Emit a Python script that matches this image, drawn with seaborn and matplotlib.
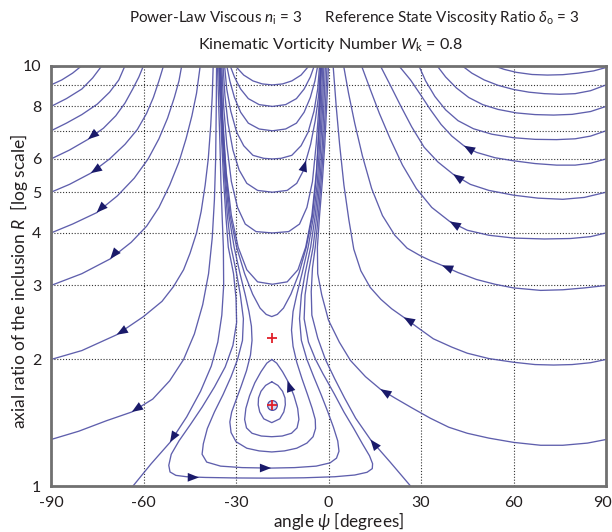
import matplotlib
matplotlib.use("Agg")
import matplotlib.pyplot as plt
import matplotlib.transforms as mtransforms
import seaborn as sns
import pandas as pd

# ---------------- data: (psi [deg], R) ----------------
# left family (from psi=-90 edge up to the top)
L99 = [(-90, 9.9), (-87.5, 9.95), (-85.5, 10)]
L9 = [(-90, 9.0), (-86.5, 9.25), (-83, 9.6), (-80, 10)]
L8 = [(-90, 8.0), (-85, 8.35), (-80, 8.8), (-76.5, 9.35), (-73.5, 10)]
L7 = [(-90, 7.0), (-85, 7.3), (-80, 7.65), (-75, 8.1), (-71, 8.65), (-68, 9.25), (-66, 10)]
L6 = [(-90, 6.0), (-84, 6.3), (-78, 6.68), (-73, 7.1), (-69, 7.6), (-66, 8.15), (-63.5, 8.8), (-61.5, 9.4), (-60, 10)]
L5 = [(-90, 5.0), (-84, 5.22), (-77.1, 5.55), (-71, 6.0), (-66, 6.5), (-62, 7.05), (-59, 7.7), (-56.8, 8.4), (-55, 9.2), (-53.5, 10)]
L4 = [(-90, 4.0), (-83, 4.2), (-75.2, 4.47), (-68.5, 4.9), (-63, 5.4), (-58.5, 6.0), (-55, 6.7), (-52.2, 7.5), (-50, 8.4), (-48.5, 9.2), (-47.6, 10)]
L3 = [(-90, 3.0), (-80, 3.2), (-70.8, 3.47), (-64, 3.8), (-59, 4.15), (-55, 4.6), (-51.5, 5.2), (-48.5, 5.9), (-46.2, 6.7), (-44.3, 7.6), (-42.8, 8.6), (-41.6, 10)]
L2 = [(-90, 2.0), (-80, 2.1), (-68.7, 2.29), (-60, 2.53), (-54, 2.75), (-50.3, 2.98), (-47, 3.27), (-44.9, 3.58), (-42.8, 4.0), (-41.3, 4.5), (-40, 5.2), (-39, 6.0), (-38.2, 7.2), (-37.7, 8.5), (-37.4, 10)]
L13 = [(-90, 1.29), (-81, 1.35), (-72, 1.43), (-63.8, 1.50), (-57, 1.61), (-51.5, 1.78), (-47, 2.0), (-43.5, 2.3), (-40.8, 2.7), (-38.9, 3.2), (-37.7, 3.9), (-37, 4.8), (-36.6, 6.0), (-36.4, 8), (-36.3, 10)]
B63 = [(-63.4, 1.0), (-57.5, 1.13), (-51.4, 1.27), (-46.0, 1.46), (-41.5, 1.68), (-38.0, 1.93), (-35.9, 2.2), (-34.6, 2.55), (-34.0, 3.0), (-34.1, 3.7), (-34.5, 4.4), (-34.9, 5.3), (-35.2, 6.5), (-35.6, 8), (-36.0, 10)]

# right family (from the top down to the psi=+90 edge)
R99 = [(53.6, 10), (57, 9.8), (61, 9.64), (66, 9.53), (71, 9.5), (76, 9.52), (81, 9.6), (86, 9.72), (90, 9.9)]
R9 = [(43.3, 10), (46.5, 9.6), (50.5, 9.25), (55, 8.98), (60, 8.78), (65, 8.65), (70, 8.58), (75, 8.55), (80, 8.58), (85, 8.72), (90, 9.0)]
R8 = [(35.2, 10), (38, 9.4), (41.5, 8.85), (45.5, 8.4), (50, 8.08), (55, 7.87), (61, 7.72), (67, 7.65), (73, 7.63), (79, 7.66), (85, 7.78), (90, 8.0)]
R7 = [(29.3, 10), (31.5, 9.2), (34.5, 8.45), (38, 7.85), (42, 7.4), (47, 7.08), (53, 6.87), (60, 6.74), (67, 6.68), (74, 6.67), (80, 6.7), (85, 6.8), (90, 7.0)]
R6 = [(22.8, 10), (26.6, 9.25), (30, 8.5), (33.1, 7.85), (36.5, 7.25), (40, 6.8), (43.9, 6.45), (48, 6.22), (54, 6.04), (60, 5.94), (67, 5.85), (74, 5.8), (80, 5.8), (85, 5.86), (90, 6.0)]
R5 = [(16.8, 10), (20, 9.0), (23.5, 8.0), (27, 7.15), (31, 6.4), (35.5, 5.9), (40.4, 5.52), (46, 5.22), (52, 5.05), (60, 4.92), (68, 4.84), (76, 4.81), (83, 4.86), (90, 5.0)]
R4 = [(10.7, 10), (13.5, 8.8), (16.5, 7.7), (20, 6.7), (24, 5.8), (28.5, 5.1), (33.5, 4.6), (39.3, 4.26), (45, 4.06), (52, 3.95), (60, 3.89), (70, 3.87), (78.5, 3.88), (85, 3.92), (90, 4.0)]
R3 = [(4.9, 10), (6.5, 8.6), (8.5, 7.3), (11, 6.1), (14, 5.1), (17.5, 4.4), (21.5, 3.95), (25.5, 3.68), (29.8, 3.53), (33, 3.44), (36.8, 3.35), (42, 3.22), (48, 3.1), (54, 3.02), (60, 2.96), (68.8, 2.92), (76, 2.93), (83, 2.96), (90, 3.0)]
R2 = [(1.5, 10), (2.5, 8), (3.6, 6.5), (5.0, 5.2), (6.6, 4.3), (8.2, 3.66), (10.5, 3.25), (13.5, 2.97), (17, 2.78), (20.5, 2.64), (24.4, 2.52), (29, 2.38), (34, 2.24), (40, 2.14), (45, 2.07), (52, 2.01), (60, 1.97), (67, 1.945), (73, 1.94), (79, 1.945), (85, 1.965), (90, 2.0)]
R13 = [(90, 1.29), (84, 1.265), (76, 1.25), (68.8, 1.25), (60, 1.27), (52, 1.30), (45, 1.335), (39, 1.38), (33, 1.45), (27, 1.535), (21.5, 1.62), (16.8, 1.70), (12, 1.82), (7.1, 1.99), (3.5, 2.2), (0.0, 2.48), (-2.2, 2.85), (-3.5, 3.2), (-3.6, 3.7), (-2.9, 4.4), (-2.0, 5.3), (-1.2, 6.5), (-0.6, 8), (0.0, 10)]
B26 = [(26.6, 1.0), (20, 1.14), (13.6, 1.29), (8.8, 1.45), (5.2, 1.62), (2.0, 1.8), (-1.0, 2.0), (-3.5, 2.25), (-5.4, 2.55), (-5.6, 2.9), (-5.2, 3.3), (-4.3, 3.7), (-3.3, 4.4), (-2.4, 5.3), (-1.6, 6.5), (-1.0, 8), (-0.5, 10)]

# U-shaped trajectories above the saddle
U9 = [(-30.3, 10), (-27.5, 9.5), (-24.5, 9.2), (-21.5, 9.05), (-18.2, 9.0), (-14.9, 9.05), (-11.9, 9.2), (-8.9, 9.5), (-6.3, 10)]
U8 = [(-31.9, 10), (-30.5, 9.4), (-28.5, 8.8), (-26, 8.35), (-22.5, 8.08), (-18.2, 8.0), (-13.9, 8.08), (-10.4, 8.35), (-7.9, 8.8), (-5.9, 9.4), (-4.6, 10)]
U7 = [(-33, 10), (-32, 9.2), (-30.5, 8.4), (-28.5, 7.75), (-26, 7.3), (-22.5, 7.07), (-18.2, 7.0), (-13.9, 7.07), (-10.4, 7.3), (-7.9, 7.75), (-5.9, 8.4), (-4.4, 9.2), (-3.5, 10)]
U6 = [(-33.7, 10), (-33, 8.8), (-31.7, 7.8), (-29.8, 6.95), (-27.5, 6.45), (-24.5, 6.12), (-21, 6.02), (-18.2, 6.0), (-15.4, 6.02), (-11.9, 6.12), (-8.9, 6.45), (-6.6, 6.95), (-4.7, 7.8), (-3.5, 8.8), (-2.9, 10)]
U5 = [(-34.2, 10), (-33.6, 8.5), (-32.6, 7.3), (-31, 6.3), (-29, 5.65), (-26.5, 5.25), (-23, 5.05), (-18.2, 5.0), (-13.4, 5.05), (-10.3, 5.25), (-8.3, 5.6), (-7.3, 5.95), (-5.8, 6.5), (-4.3, 7.4), (-3.2, 8.5), (-2.6, 10)]
U4 = [(-34.6, 10), (-34, 8), (-33, 6.5), (-31.5, 5.3), (-29.5, 4.6), (-27, 4.2), (-23.5, 4.03), (-18.2, 4.0), (-12.9, 4.03), (-9.4, 4.2), (-7, 4.6), (-5.2, 5.3), (-4, 6.5), (-3.1, 8), (-2.4, 10)]
U3 = [(-34.9, 10), (-34.3, 7.5), (-33.2, 5.6), (-31.5, 4.4), (-29.3, 3.7), (-26.5, 3.27), (-23, 3.06), (-18.2, 3.02), (-13.4, 3.06), (-9.9, 3.27), (-7.4, 3.7), (-5.4, 4.4), (-3.9, 5.6), (-3.0, 7.5), (-2.5, 10)]
U25 = [(-35.1, 10), (-34.6, 8), (-33.9, 6.5), (-33.0, 5.3), (-31.9, 4.4), (-29.8, 3.7), (-27.2, 3.2), (-24.6, 2.86), (-22.2, 2.65), (-20.2, 2.56), (-18.4, 2.53), (-16.6, 2.56), (-14.6, 2.65), (-12.2, 2.86), (-9.6, 3.2), (-7.2, 3.7), (-5.2, 4.4), (-4.1, 5.3), (-3.3, 6.5), (-2.7, 8), (-2.3, 10)]

# open loops that pass below the centre
C = [(-35.2, 10), (-34.7, 8), (-34.1, 6.5), (-33.3, 5.3), (-32.3, 4.4), (-30.6, 3.7), (-28.7, 3.2), (-27.0, 2.85), (-25.8, 2.6), (-25.0, 2.4), (-24.8, 2.22), (-25.3, 2.05), (-26.6, 1.88), (-28.3, 1.73), (-30.0, 1.6), (-31.4, 1.5), (-32.0, 1.42), (-31.6, 1.34), (-30.0, 1.275), (-26.5, 1.23), (-22.5, 1.212), (-18.4, 1.205), (-14.3, 1.212), (-10.3, 1.23), (-7.0, 1.265), (-5.0, 1.31), (-4.2, 1.37), (-4.3, 1.44), (-5.3, 1.53), (-6.8, 1.65), (-8.6, 1.8), (-10.3, 1.97), (-11.5, 2.15), (-12.0, 2.35), (-11.5, 2.6), (-10.3, 2.85), (-8.6, 3.2), (-6.6, 3.7), (-4.8, 4.4), (-3.6, 5.3), (-2.9, 6.5), (-2.3, 8), (-1.9, 10)]
E = [(-35.4, 10), (-34.9, 8), (-34.3, 6.5), (-33.6, 5.3), (-32.8, 4.4), (-31.6, 3.7), (-29.8, 3.2), (-28.6, 2.85), (-27.6, 2.5), (-27.9, 2.22), (-29.5, 2.0), (-31.6, 1.82), (-34.2, 1.65), (-37.0, 1.5), (-39.3, 1.37), (-40.6, 1.26), (-41.0, 1.19), (-39.5, 1.14), (-35, 1.115), (-28, 1.106), (-18.9, 1.103), (-11, 1.106), (-4, 1.115), (0.5, 1.135), (2.6, 1.165), (3.4, 1.21), (3.0, 1.28), (1.6, 1.38), (-0.2, 1.5), (-2.4, 1.65), (-4.8, 1.82), (-7.0, 2.0), (-8.8, 2.22), (-9.4, 2.5), (-8.8, 2.85), (-7.6, 3.2), (-5.8, 3.7), (-4.3, 4.4), (-3.2, 5.3), (-2.5, 6.5), (-1.9, 8), (-1.5, 10)]
F = [(-35.6, 10), (-35.1, 8), (-34.6, 6.5), (-34.0, 5.3), (-33.3, 4.4), (-32.5, 3.7), (-30.8, 3.2), (-30.0, 2.8), (-29.8, 2.45), (-31.0, 2.16), (-33.5, 1.92), (-37.0, 1.72), (-41.0, 1.54), (-44.8, 1.4), (-48.5, 1.28), (-51.0, 1.19), (-51.8, 1.12), (-51.4, 1.08), (-49.5, 1.06), (-46, 1.052), (-40, 1.048), (-30, 1.045), (-18.9, 1.044), (-8, 1.046), (2, 1.052), (8.5, 1.062), (12.5, 1.078), (14.2, 1.1), (14.3, 1.13), (13.3, 1.18), (11.0, 1.26), (8.2, 1.37), (5.0, 1.5), (1.8, 1.66), (-1.8, 1.85), (-4.2, 2.0), (-6.5, 2.2), (-7.9, 2.5), (-7.6, 2.85), (-6.6, 3.2), (-5.0, 3.7), (-3.8, 4.4), (-2.8, 5.3), (-2.0, 6.5), (-1.5, 8), (-1.0, 10)]

# closed orbits around the centre
orbit_A = [(-18.4, 1.77), (-16.4, 1.735), (-14.9, 1.68), (-14.1, 1.62), (-14.0, 1.56), (-14.5, 1.50), (-15.8, 1.445), (-18.4, 1.415), (-21.0, 1.445), (-22.3, 1.50), (-22.8, 1.56), (-22.7, 1.62), (-21.9, 1.68), (-20.4, 1.735), (-18.4, 1.77)]
orbit_B = [(-18.4, 2.0), (-16.8, 1.96), (-14.9, 1.87), (-12.9, 1.76), (-11.2, 1.64), (-10.0, 1.53), (-9.6, 1.44), (-10.2, 1.375), (-12.0, 1.335), (-15.0, 1.315), (-18.4, 1.31), (-21.8, 1.315), (-24.8, 1.335), (-26.6, 1.375), (-27.2, 1.44), (-26.8, 1.53), (-25.6, 1.64), (-23.9, 1.76), (-21.9, 1.87), (-20.0, 1.96), (-18.4, 2.0)]

# fixed points: centre and saddle
fixed_psi = [-18.4, -18.4]
fixed_R = [1.56, 2.25]

# arrows: (tail psi, tail R, head psi, head R)
arrows = [
    (-76.5, 6.82, -78.0, 6.68), (-75.5, 5.65, -77.1, 5.55), (-73.5, 4.6, -75.2, 4.47),
    (-69.0, 3.6, -70.8, 3.47), (-67.0, 2.33, -68.7, 2.29), (-62.0, 1.53, -63.8, 1.50),
    (-50.3, 1.31, -51.4, 1.27), (-44.5, 1.0485, -42.0, 1.048), (-20.8, 1.1035, -18.6, 1.1035),
    (-12.6, 1.72, -13.3, 1.78), (-7.9, 5.75, -7.3, 5.95),
    (45.5, 6.35, 43.9, 6.45), (42.0, 5.42, 40.4, 5.52), (41.0, 4.19, 39.3, 4.26),
    (38.5, 3.31, 36.8, 3.35), (26.0, 2.48, 24.4, 2.52), (18.5, 1.67, 16.8, 1.70),
    (14.9, 1.255, 13.6, 1.29),
]

curves = {"L99": L99, "L9": L9, "L8": L8, "L7": L7, "L6": L6, "L5": L5, "L4": L4, "L3": L3,
          "L2": L2, "L13": L13, "B63": B63, "R99": R99, "R9": R9, "R8": R8, "R7": R7,
          "R6": R6, "R5": R5, "R4": R4, "R3": R3, "R2": R2, "R13": R13, "B26": B26,
          "U9": U9, "U8": U8, "U7": U7, "U6": U6, "U5": U5, "U4": U4, "U3": U3, "U25": U25,
          "C": C, "E": E, "F": F, "A": orbit_A, "B": orbit_B}

rows = []
for name, pts in curves.items():
    for i, (p, r) in enumerate(pts):
        rows.append({"curve": name, "order": i, "psi": p, "R": r})
df = pd.DataFrame(rows)

# ---------------- style ----------------
sns.set_theme(style="white")
FONT = "Lato"
plt.rcParams["font.family"] = [FONT, "DejaVu Sans"]
plt.rcParams["mathtext.fontset"] = "custom"
plt.rcParams["mathtext.rm"] = FONT
plt.rcParams["mathtext.it"] = FONT + ":italic"

LINE = "#4e4ea4"
ARROW = "#1a1a6a"
TXT = "#231f20"

fig = plt.figure(figsize=(6.12, 5.32), dpi=100)
ax = fig.add_axes([51 / 612, 1 - 486 / 532, (606 - 51) / 612, (486 - 65.7) / 532])

sns.lineplot(data=df, x="psi", y="R", units="curve", estimator=None, sort=False,
             color=LINE, lw=0.95, alpha=0.9, legend=False, ax=ax)

for (p0, r0, p1, r1) in arrows:
    ax.annotate("", xy=(p1, r1), xytext=(p0, r0),
                arrowprops=dict(arrowstyle="-|>,head_length=0.9,head_width=0.35",
                                mutation_scale=9, color=ARROW, lw=0,
                                shrinkA=0, shrinkB=0), zorder=6)

# centre marker (tiny orbit) and fixed points
ax.plot(fixed_psi[:1], fixed_R[:1], "o", ms=7, mfc="#d8d8ee", mec=LINE, mew=0.9, zorder=4)
ax.plot(fixed_psi, fixed_R, "+", ms=7, mew=1.3, color="#e0202a", zorder=5)

ax.set_yscale("log")
ax.set_xlim(-90, 90)
ax.set_ylim(1, 10)
ax.set_xticks([-90, -60, -30, 0, 30, 60, 90])
ax.set_xticklabels(["-90", "-60", "-30", "0", "30", "60", "90"])
ax.set_yticks([1, 2, 3, 4, 5, 6, 7, 8, 9, 10])
ax.set_yticklabels(["1", "2", "3", "4", "5", "6", "", "8", "", "10"])
ax.yaxis.set_minor_locator(matplotlib.ticker.NullLocator())
ax.tick_params(axis="both", length=0, labelsize=11.5, colors=TXT)
ax.tick_params(axis="x", pad=7.5)
ax.tick_params(axis="y", pad=7)
ax.grid(True, color="#333333", lw=0.8, linestyle=(0, (1, 1.6)))
for s in ax.spines.values():
    s.set_color("#707070")
    s.set_linewidth(2.0)
ax.set_xlabel("")
ax.set_ylabel("")

# keep the last x tick label ("90") inside the canvas
fig.canvas.draw()
last = ax.get_xticklabels()[-1]
last.set_transform(last.get_transform() + mtransforms.ScaledTranslation(-4 / 100, 0, fig.dpi_scale_trans))

fig.text(339 / 612, 1 - 521 / 532, r"angle $\psi$ [degrees]",
         ha="center", va="center", fontsize=12.3, color=TXT)
fig.text(19 / 612, 1 - 281 / 532, r"axial ratio of the inclusion $R$  [log scale]",
         ha="center", va="center", rotation=90, fontsize=12.5, color=TXT)

fig.text(354 / 612, 1 - 18 / 532,
         r"Power-Law Viscous $n_\mathrm{i}$ = 3      Reference State Viscosity Ratio $\delta_\mathrm{o}$ = 3",
         ha="center", va="center", fontsize=11.0, color=TXT)
fig.text(331 / 612, 1 - 45 / 532, r"Kinematic Vorticity Number $W_\mathrm{k}$ = 0.8",
         ha="center", va="center", fontsize=11.6, color=TXT)

fig.savefig("out.png", dpi=100)
